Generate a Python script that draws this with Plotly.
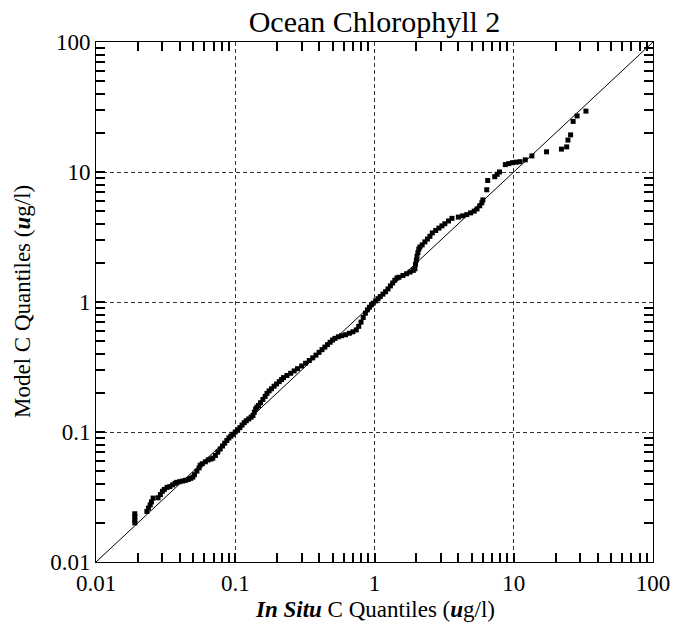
import plotly.graph_objects as go

# In situ quantiles (ug/l)
in_situ = [0.0190, 0.0190, 0.0190, 0.0190,
           0.0232, 0.0238, 0.0245, 0.0250, 0.0257,
           0.0279, 0.0290, 0.0300, 0.0310, 0.0324,
           0.0339, 0.0355, 0.0370, 0.0380,
           0.0400, 0.0420, 0.0440, 0.0460, 0.0480, 0.0496,
           0.0510, 0.0530, 0.0550, 0.0560,
           0.0580, 0.0610, 0.0640, 0.0670, 0.0690,
           0.0720, 0.0750, 0.0780, 0.0810, 0.0840, 0.0870, 0.0900, 0.0930, 0.0960,
           0.100, 0.104, 0.108, 0.112, 0.116, 0.120, 0.125, 0.130, 0.134, 0.137, 0.140, 0.143,
           0.147, 0.152, 0.158, 0.164, 0.169,
           0.175, 0.182, 0.190, 0.198, 0.207, 0.215, 0.222,
           0.235, 0.250, 0.265, 0.280, 0.300, 0.320, 0.340, 0.360, 0.380, 0.400,
           0.420, 0.440, 0.460, 0.480, 0.500,
           0.52, 0.55, 0.58, 0.62, 0.66, 0.70, 0.74,
           0.77, 0.80, 0.83, 0.86, 0.89, 0.92, 0.95, 0.98,
           1.02, 1.06, 1.10, 1.15, 1.20, 1.25, 1.30, 1.35, 1.40, 1.45,
           1.50, 1.60, 1.70, 1.80, 1.90,
           1.95, 1.97, 2.00, 2.02, 2.05, 2.08, 2.12,
           2.2, 2.3, 2.4, 2.5, 2.6,
           2.75, 2.9, 3.05, 3.2, 3.4, 3.6,
           4.0, 4.3, 4.6, 4.9, 5.2, 5.45,
           5.7, 5.9, 6.0,
           6.4, 6.5,
           7.3, 7.6, 7.9,
           8.7, 9.2, 9.8, 10.4, 11.1,
           12.1, 13.5, 17.2, 22.0, 24.0, 24.5, 25.6, 26.7, 28.5, 33.0]

# Model quantiles (ug/l)
model = [0.0200, 0.0210, 0.0222, 0.0235,
         0.0245, 0.0260, 0.0275, 0.0290, 0.0310,
         0.0312, 0.0330, 0.0350, 0.0362, 0.0375,
         0.0380, 0.0392, 0.0403, 0.0410,
         0.0415, 0.0420, 0.0425, 0.0432, 0.0440, 0.0450,
         0.0470, 0.0500, 0.0530, 0.0556,
         0.0570, 0.0590, 0.0610, 0.0620, 0.0630,
         0.066, 0.070, 0.074, 0.078, 0.082, 0.086, 0.090, 0.093, 0.096,
         0.100, 0.104, 0.108, 0.113, 0.118, 0.122, 0.126, 0.130, 0.134, 0.142, 0.150, 0.155,
         0.160, 0.168, 0.178, 0.188, 0.198,
         0.207, 0.215, 0.225, 0.234, 0.244, 0.253, 0.262,
         0.272, 0.283, 0.295, 0.307, 0.322, 0.338, 0.355, 0.372, 0.390, 0.410,
         0.430, 0.450, 0.470, 0.490, 0.510,
         0.525, 0.540, 0.550, 0.560, 0.575, 0.590, 0.610,
         0.650, 0.700, 0.760, 0.820, 0.870, 0.910, 0.950, 0.980,
         1.02, 1.06, 1.10, 1.15, 1.20, 1.26, 1.33, 1.40, 1.47, 1.53,
         1.55, 1.60, 1.65, 1.70, 1.75,
         1.80, 1.95, 2.10, 2.25, 2.40, 2.55, 2.65,
         2.75, 2.90, 3.05, 3.20, 3.40,
         3.55, 3.70, 3.85, 4.00, 4.20, 4.40,
         4.50, 4.60, 4.70, 4.85, 5.00, 5.20,
         5.50, 5.80, 6.10,
         7.30, 8.60,
         9.20, 9.60, 10.0,
         11.4, 11.6, 11.8, 11.9, 12.0,
         12.4, 13.3, 14.3, 15.0, 15.6, 17.6, 19.3, 24.5, 27.0, 29.4]

# one-to-one reference line
one_to_one = [0.01, 100]

tick_vals = [0.01, 0.1, 1, 10, 100]
tick_text = ["0.01", "0.1", "1", "10", "100"]
# minor tick positions (2..9 in each decade)
decades = [0.01, 0.1, 1, 10]
minor_vals = [d * k for d in decades for k in range(2, 10)]

FONT = "Liberation Serif, Times New Roman, serif"

fig = go.Figure()
fig.add_trace(go.Scatter(x=one_to_one, y=one_to_one, mode="lines",
                         line=dict(color="black", width=1), hoverinfo="skip",
                         showlegend=False, xaxis="x2", yaxis="y2"))
fig.add_trace(go.Scatter(x=in_situ, y=model, mode="markers",
                         marker=dict(symbol="square", size=5, color="black",
                                     line=dict(width=0)),
                         showlegend=False))

axis_common = dict(
    type="log", range=[-2, 2],
    tickmode="array", tickvals=tick_vals, ticktext=tick_text,
    ticks="inside", ticklen=9, tickcolor="black", tickwidth=2,
    showgrid=True, gridcolor="#333333", gridwidth=1, griddash="4px,3px",
    showline=True, linecolor="black",
    tickfont=dict(family=FONT, size=23, color="black"),
    minor=dict(ticks="inside", ticklen=9, tickcolor="black", tickwidth=2,
               tickmode="array", tickvals=minor_vals),
)

mirror_common = dict(
    type="log", range=[-2, 2],
    tickmode="array", tickvals=minor_vals, ticks="inside", ticklen=9,
    tickcolor="black", tickwidth=2,
    showticklabels=False, showgrid=False,
    showline=True, linecolor="black",
)

fig.update_layout(
    width=689, height=629,
    margin=dict(l=96, r=36, t=42, b=67),
    plot_bgcolor="white",
    font=dict(family=FONT, color="black"),
    title=dict(text="Ocean Chlorophyll 2", x=0.5, xref="paper", xanchor="center",
               y=1 - 21 / 629, yref="container", yanchor="middle",
               font=dict(family=FONT, size=30, color="black")),
    xaxis=dict(**axis_common),
    yaxis=dict(**axis_common),
    xaxis2=dict(**mirror_common, overlaying="x", side="top", anchor="y2"),
    yaxis2=dict(**mirror_common, overlaying="y", side="right", anchor="x2"),
    annotations=[
        dict(text="<b><i>In Situ</i></b> C Quantiles (<b><i>u</i></b>g/l)",
             xref="paper", yref="paper", x=0.5, y=0, xanchor="center", yanchor="middle",
             yshift=-47, showarrow=False, font=dict(family=FONT, size=23, color="black")),
        dict(text="Model C Quantiles (<b><i>u</i></b>g/l)",
             xref="paper", yref="paper", x=0, y=0.5, xanchor="center", yanchor="middle",
             xshift=-74, textangle=-90, showarrow=False,
             font=dict(family=FONT, size=23, color="black")),
    ],
)

fig.write_html("out.html")
